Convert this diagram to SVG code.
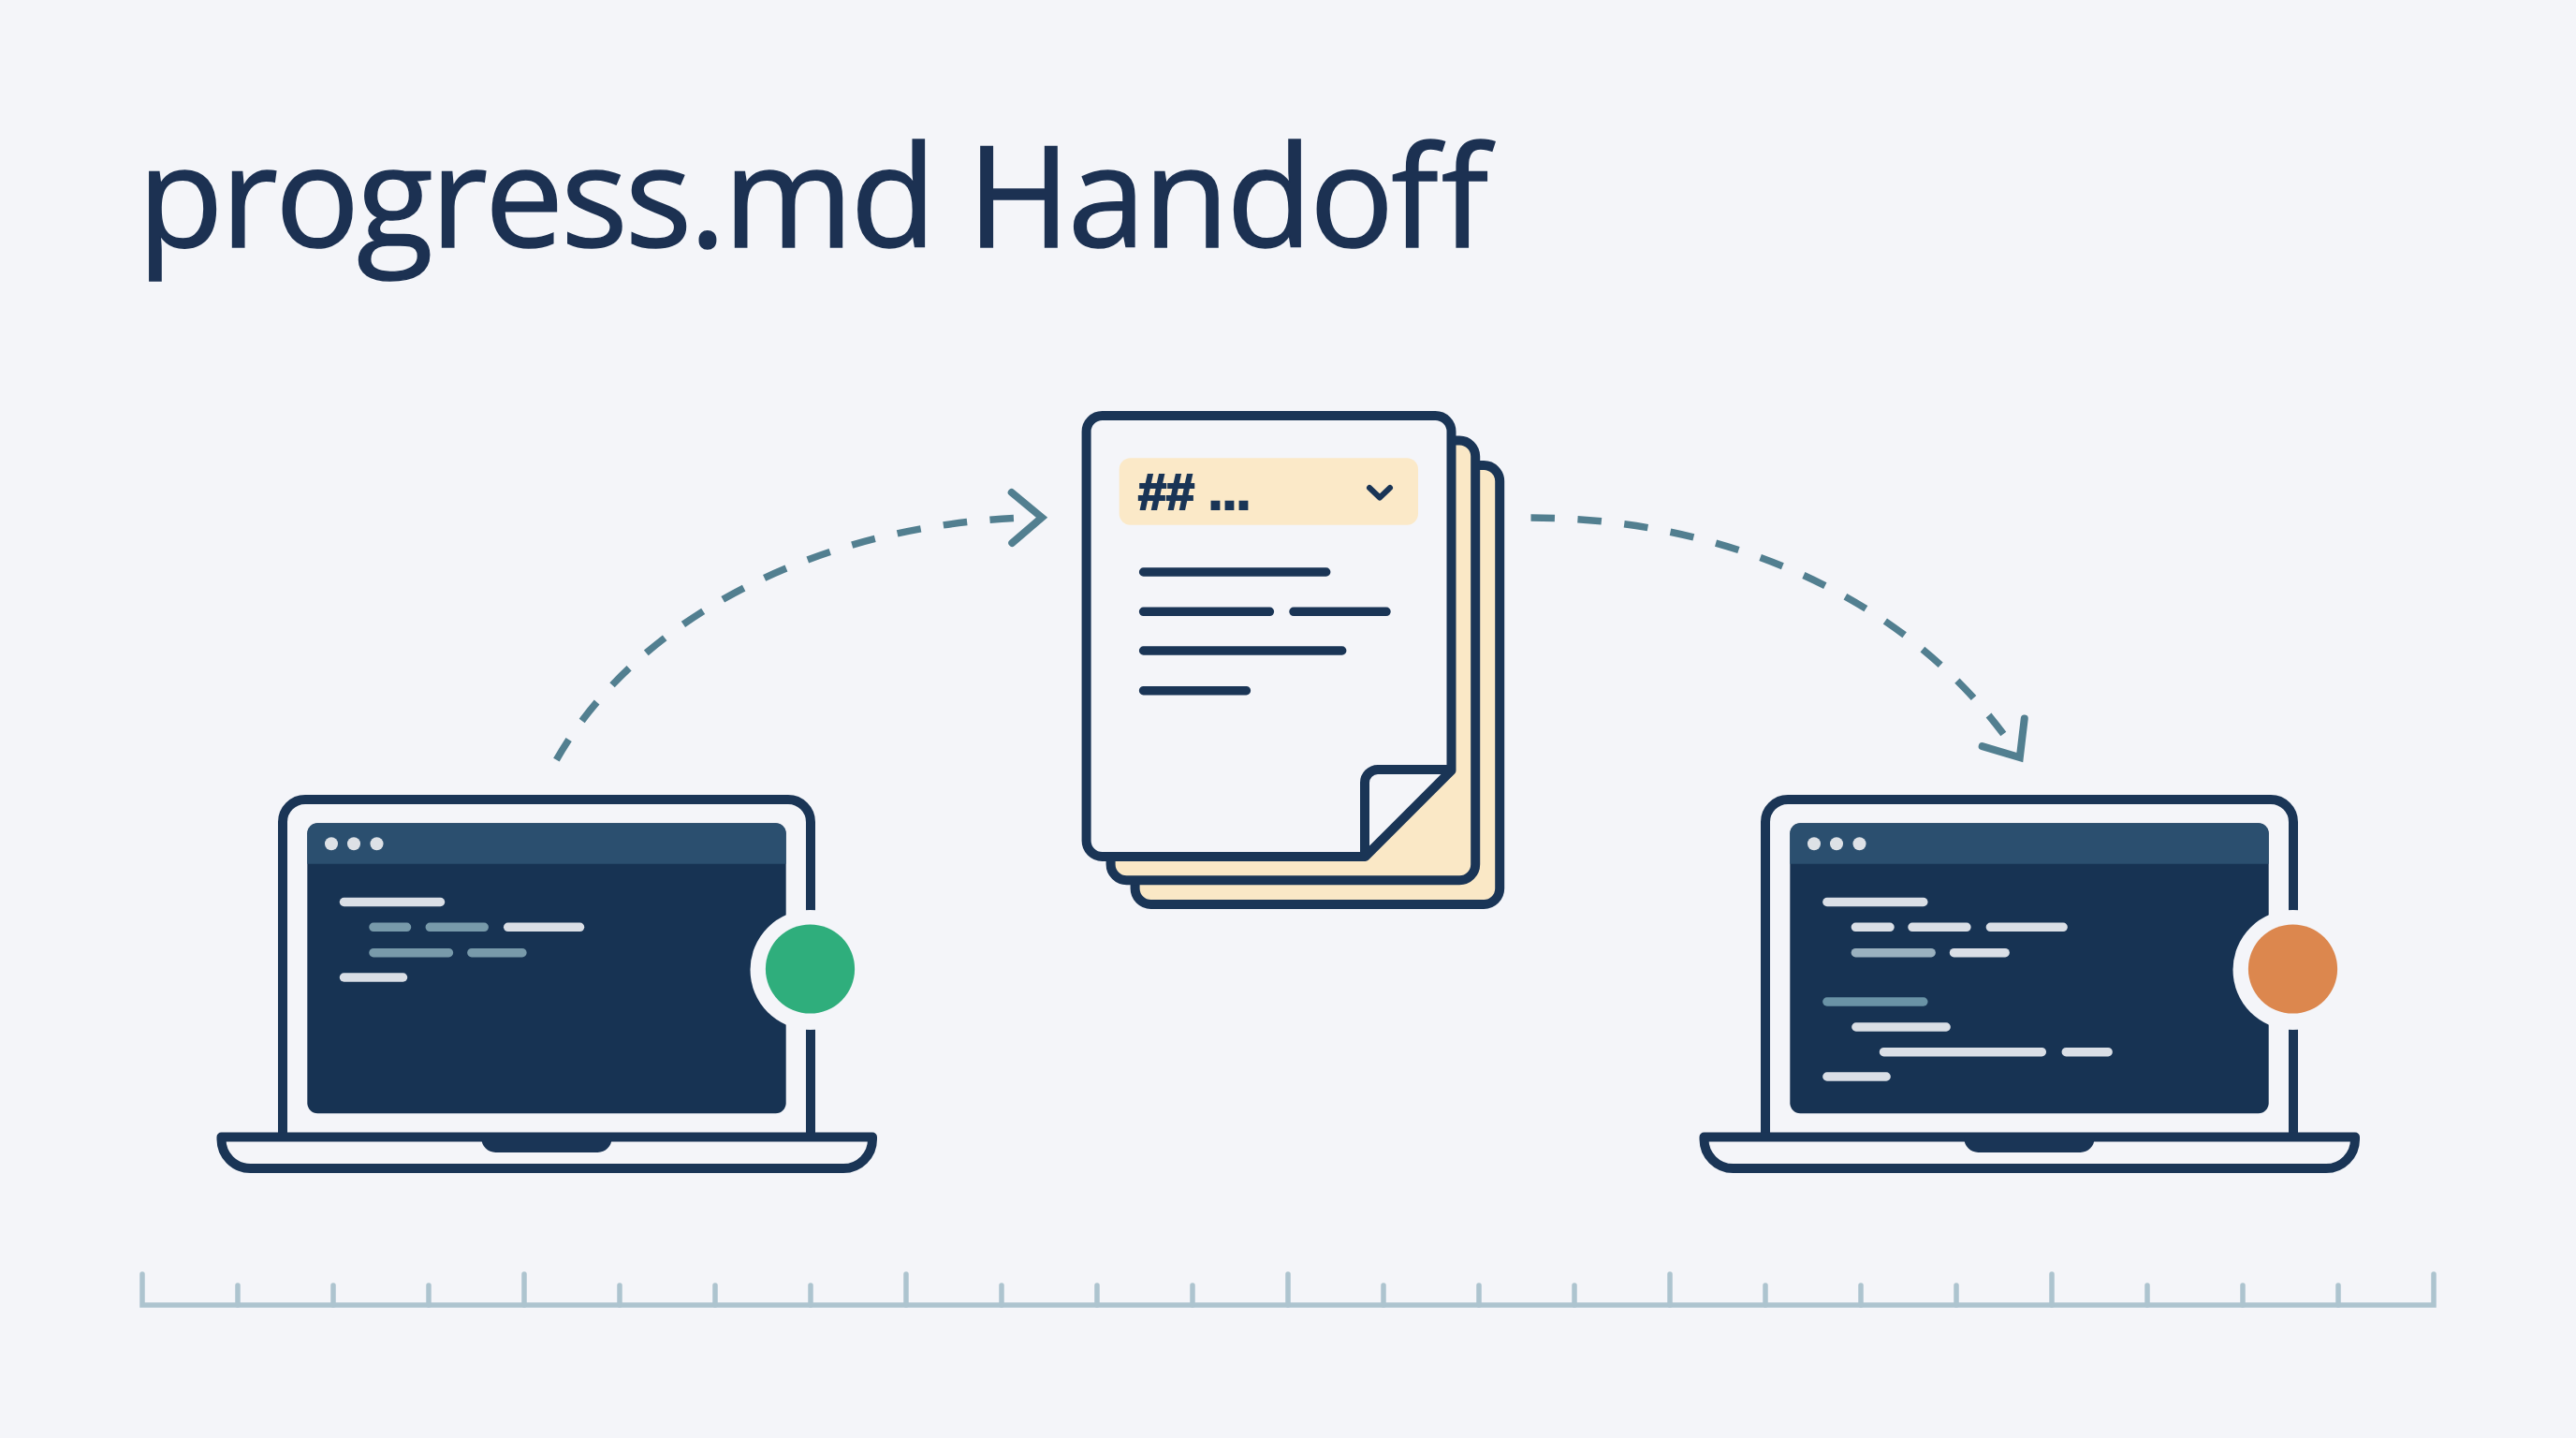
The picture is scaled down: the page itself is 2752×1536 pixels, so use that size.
<svg xmlns="http://www.w3.org/2000/svg" width="2752" height="1536" viewBox="0 0 2752 1536">
  <style>
    .ink { fill: none; stroke: #1a3556; stroke-width: 10; stroke-linejoin: round; }
    .bar { stroke-width: 9.5; stroke-linecap: round; fill: none; }
    .lite { stroke: #dadfe6; }
    .dim { stroke: #789aaa; }
    .mid { stroke: #9ab1bf; }
    .teal { stroke: #6a93a6; }
    .docline { stroke: #1a3556; stroke-width: 9.5; stroke-linecap: round; fill: none; }
    .link { fill: none; stroke: #527f90; stroke-width: 7.5; stroke-dasharray: 25.5 24.5; marker-end: url(#head); }
    .tick { fill: none; stroke: #adc4cf; stroke-width: 5.5; stroke-linecap: round; }
    .title { font-family: "Open Sans", "Liberation Sans", sans-serif; font-size: 150px; font-weight: 500; letter-spacing: -3px; fill: #1c3152; stroke: #1c3152; stroke-width: 1.5; }
    .heading { font-family: "Liberation Sans", Arial, sans-serif; font-size: 54px; font-weight: 700; fill: #1a3556; stroke: #1a3556; stroke-width: 2.2; }
  </style>
  <defs>
    <marker id="head" markerUnits="userSpaceOnUse" markerWidth="60" markerHeight="80" refX="40" refY="40" orient="auto" overflow="visible">
      <path d="M8 13 L40 40 L8 67" fill="none" stroke="#527f90" stroke-width="8" stroke-linecap="round" stroke-linejoin="miter" stroke-miterlimit="8"/>
    </marker>
    <g id="laptop-frame">
      <path class="ink" d="M302 1212 V878 A24 24 0 0 1 326 854 H842 A24 24 0 0 1 866 878 V1212"/>
      <rect x="328.3" y="879.3" width="511.4" height="310" rx="11" fill="#173353"/>
      <path d="M328.3 922.7 V890.3 A11 11 0 0 1 339.3 879.3 H828.7 A11 11 0 0 1 839.7 890.3 V922.7 Z" fill="#2b4f6f"/>
      <circle cx="354" cy="901.3" r="7" fill="#dde1e6"/>
      <circle cx="378" cy="901.3" r="7" fill="#dde1e6"/>
      <circle cx="402.5" cy="901.3" r="7" fill="#dde1e6"/>
      <path class="ink" d="M236.5 1214.5 H932 V1217 A31 31 0 0 1 901 1248 H267.5 A31 31 0 0 1 236.5 1217 Z"/>
      <path d="M514.4 1214 H653.5 V1216 A15 15 0 0 1 638.5 1231 H529.4 A15 15 0 0 1 514.4 1216 Z" fill="#1a3556"/>
      <circle cx="865.5" cy="1036" r="64" fill="#f4f5f9"/>
    </g>
  </defs>

  <rect width="2752" height="1536" fill="#f4f5f9"/>

  <text id="title" class="title" x="147" y="264">progress.md Handof<tspan dx="6">f</tspan></text>

  <g id="connectors">
    <path class="link" d="M594.4 811.7 C680 660 880 555 1113 552.7"/>
    <path class="link" d="M1635.5 553 C1830 553 2040 630 2157.8 809"/>
  </g>

  <g id="laptop-left">
    <use href="#laptop-frame"/>
    <circle cx="865.5" cy="1035" r="47.6" fill="#2fae7c"/>
    <path class="bar lite" d="M367.5 963.5 H470.5"/>
    <path class="bar dim" d="M399 990.3 H434.5 M459.3 990.3 H517.2"/>
    <path class="bar lite" d="M542.7 990.3 H619.5"/>
    <path class="bar dim" d="M399 1017.7 H479.4 M503.9 1017.7 H557.9"/>
    <path class="bar lite" d="M367.5 1044 H430.5"/>
  </g>

  <g id="laptop-right" transform="translate(1584 0)">
    <use href="#laptop-frame"/>
    <circle cx="865.5" cy="1035" r="47.6" fill="#dc874e"/>
    <path class="bar lite" d="M367.9 963.5 H470.8"/>
    <path class="bar lite" d="M398.4 990.3 H435 M459 990.3 H516.9 M542.4 990.3 H620.1"/>
    <path class="bar mid" d="M398.4 1017.7 H479.1"/>
    <path class="bar lite" d="M503.5 1017.7 H558.1"/>
    <path class="bar teal" d="M367.9 1070 H470.8"/>
    <path class="bar lite" d="M398.9 1097 H495.1 M428.5 1123.7 H597.3 M623.3 1123.7 H668.1 M367.9 1150 H431.1"/>
  </g>

  <g id="progress-doc">
    <rect class="ink" x="1212.6" y="497" width="389.6" height="469" rx="17" style="fill:#fae8c6"/>
    <rect class="ink" x="1186.6" y="470.5" width="389.6" height="469.8" rx="17" style="fill:#fae8c6"/>
    <path class="ink" d="M1177.6 915 A17 17 0 0 1 1160.6 898 V461 A17 17 0 0 1 1177.6 444 H1533.5 A17 17 0 0 1 1550.5 461 V823 L1458.5 915 Z" style="fill:#f4f5f9"/>
    <path class="ink" d="M1550.5 822 H1472 A14 14 0 0 0 1458 836 V915"/>
    <rect x="1195.7" y="489.3" width="319.3" height="71.4" rx="12" fill="#fbe9c8"/>
    <text class="heading" x="1216" y="544">## ...</text>
    <path d="M1463 521 L1474 531.5 L1485 521" fill="none" stroke="#1a3556" stroke-width="6" stroke-linecap="round" stroke-linejoin="round"/>
    <path class="docline" d="M1221.6 611 H1416.7 M1221.6 653.3 H1356.4 M1382 653.3 H1481 M1221.6 695 H1433.7 M1221.6 737.7 H1331.4"/>
  </g>

  <g id="timeline">
    <path class="tick" d="M152 1361 V1394 H2600 V1361"/>
    <path class="tick" d="M254 1373 V1394 M356 1373 V1394 M458 1373 V1394 M560 1361 V1394 M662 1373 V1394 M764 1373 V1394 M866 1373 V1394 M968 1361 V1394 M1070 1373 V1394 M1172 1373 V1394 M1274 1373 V1394 M1376 1361 V1394 M1478 1373 V1394 M1580 1373 V1394 M1682 1373 V1394 M1784 1361 V1394 M1886 1373 V1394 M1988 1373 V1394 M2090 1373 V1394 M2192 1361 V1394 M2294 1373 V1394 M2396 1373 V1394 M2498 1373 V1394"/>
  </g>
</svg>
